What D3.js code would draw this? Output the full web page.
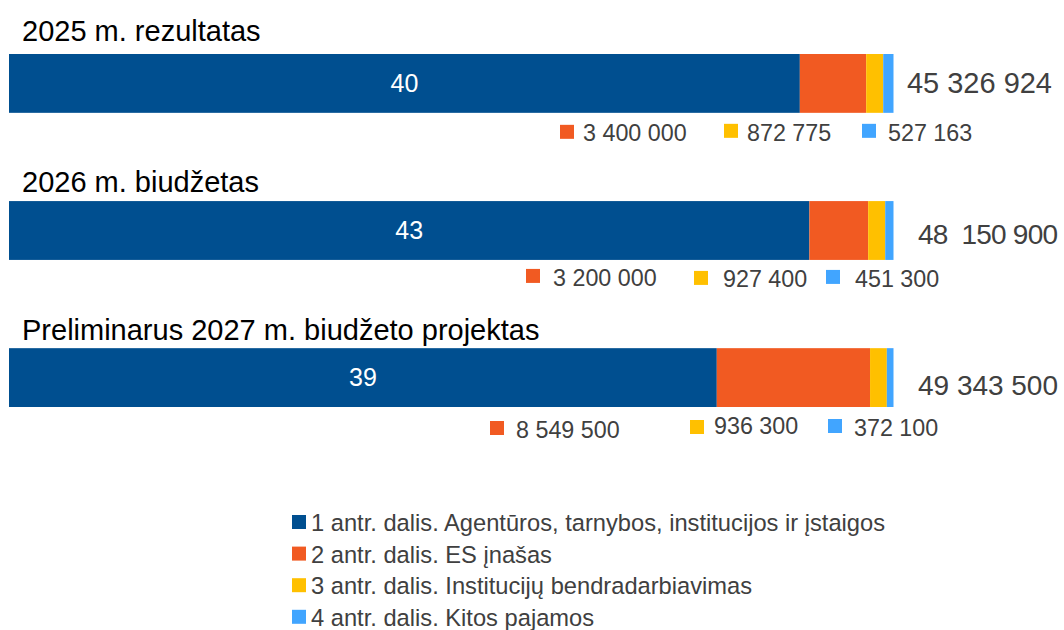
<!DOCTYPE html>
<html>
<head>
<meta charset="utf-8">
<script src="https://cdn.jsdelivr.net/npm/d3@7"></script>
<style>
  html, body { margin: 0; padding: 0; background: #fff; }
  svg { display: block; font-family: "Liberation Sans", Arial, sans-serif; }
  text { white-space: pre; }
</style>
</head>
<body>
<svg id="chart" width="1064" height="630"></svg>
<script>
// ---- Data ----
const categories = ["2025 m. rezultatas", "2026 m. biudžetas", "Preliminarus 2027 m. biudžeto projektas"];
const seriesNames = [
  "1 antr. dalis. Agentūros, tarnybos, institucijos ir įstaigos",
  "2 antr. dalis. ES įnašas",
  "3 antr. dalis. Institucijų bendradarbiavimas",
  "4 antr. dalis. Kitos pajamos"
];
const part1 = [40526986, 43572200, 39485600];
const part2 = [3400000, 3200000, 8549500];
const part3 = [872775, 927400, 936300];
const part4 = [527163, 451300, 372100];
const totalLabels = ["45 326 924", "48  150 900", "49 343 500"];
const colors = ["#004f90", "#f15a22", "#ffc000", "#41a5ff"];

// ---- Layout (annotation positions, not data) ----
const titleOffset = [13, 9, 8];
const smallLabelLayout = [
  { sq: [560, 724, 862], tx: [583, 747, 888], sqY: [12, 11, 11], base: [28, 28, 28] },
  { sq: [526, 694, 826], tx: [553, 723, 855], sqY: [9, 11, 10], base: [26, 27, 27] },
  { sq: [490, 690, 828], tx: [516, 714, 854], sqY: [14, 13, 12], base: [31, 27, 29] }
];
const totalLayout = [
  { x: 907, dy: 10, size: 29, len: 145 },
  { x: 918, dy: 13, size: 28, len: 140 },
  { x: 918, dy: 17, size: 28, len: 140 }
];

const svg = d3.select("#chart");

const x = d3.scaleLinear().domain([0, 1]).range([9, 893.5]);
const y = d3.scaleBand().domain(categories).range([54, 407]).paddingInner(0.6).paddingOuter(0);

const parts = [part1, part2, part3, part4];
const rows = categories.map((c, i) => {
  const vals = parts.map(p => p[i]);
  const total = d3.sum(vals);
  let acc = 0;
  const segs = vals.map((v, k) => {
    const s = { k, v, x0: acc / total, x1: (acc + v) / total };
    acc += v;
    return s;
  });
  return { c, i, total, segs };
});

const fmt = d3.formatLocale({ decimal: ",", thousands: " ", grouping: [3], currency: ["", ""] }).format(",d");
const g = svg.append("g");

rows.forEach(r => {
  const top = y(r.c), bw = y.bandwidth();
  // title
  g.append("text")
    .attr("x", 22).attr("y", top - titleOffset[r.i])
    .attr("font-size", 29).attr("fill", "#000")
    .text(r.c);
  // segments
  g.selectAll(null).data(r.segs).enter().append("rect")
    .attr("x", d => x(d.x0))
    .attr("y", top)
    .attr("width", d => x(d.x1) - x(d.x0))
    .attr("height", bw)
    .attr("fill", d => colors[d.k]);
  // inner label (millions)
  const s0 = r.segs[0];
  g.append("text")
    .attr("x", (x(s0.x0) + x(s0.x1)) / 2)
    .attr("y", top + bw / 2)
    .attr("dy", "0.35em")
    .attr("text-anchor", "middle")
    .attr("font-size", 25).attr("fill", "#fff")
    .text(Math.floor(s0.v / 1e6));
  // total
  const tl = totalLayout[r.i];
  g.append("text")
    .attr("x", tl.x).attr("y", top + bw / 2 + tl.dy)
    .attr("font-size", tl.size).attr("fill", "#404040")
    .attr("textLength", tl.len).attr("lengthAdjust", "spacing")
    .text(totalLabels[r.i]);
  // small labels for parts 2..4
  const lay = smallLabelLayout[r.i];
  r.segs.slice(1).forEach((s, j) => {
    const bottom = top + bw;
    g.append("rect")
      .attr("x", lay.sq[j]).attr("y", bottom + lay.sqY[j])
      .attr("width", 14).attr("height", 14)
      .attr("fill", colors[s.k]);
    g.append("text")
      .attr("x", lay.tx[j]).attr("y", bottom + lay.base[j])
      .attr("font-size", 23.3).attr("fill", "#404040")
      .text(fmt(s.v));
  });
});

// ---- Legend ----
const legend = svg.append("g").attr("transform", "translate(292,531)");
const li = legend.selectAll("g").data(seriesNames).enter().append("g")
  .attr("transform", (d, i) => `translate(0,${i * 31.6})`);
li.append("rect").attr("x", 0).attr("y", -16).attr("width", 14).attr("height", 14)
  .attr("fill", (d, i) => colors[i]);
li.append("text").attr("x", 19).attr("y", 0)
  .attr("font-size", 23.7).attr("fill", "#404040")
  .text(d => d);
</script>
</body>
</html>
